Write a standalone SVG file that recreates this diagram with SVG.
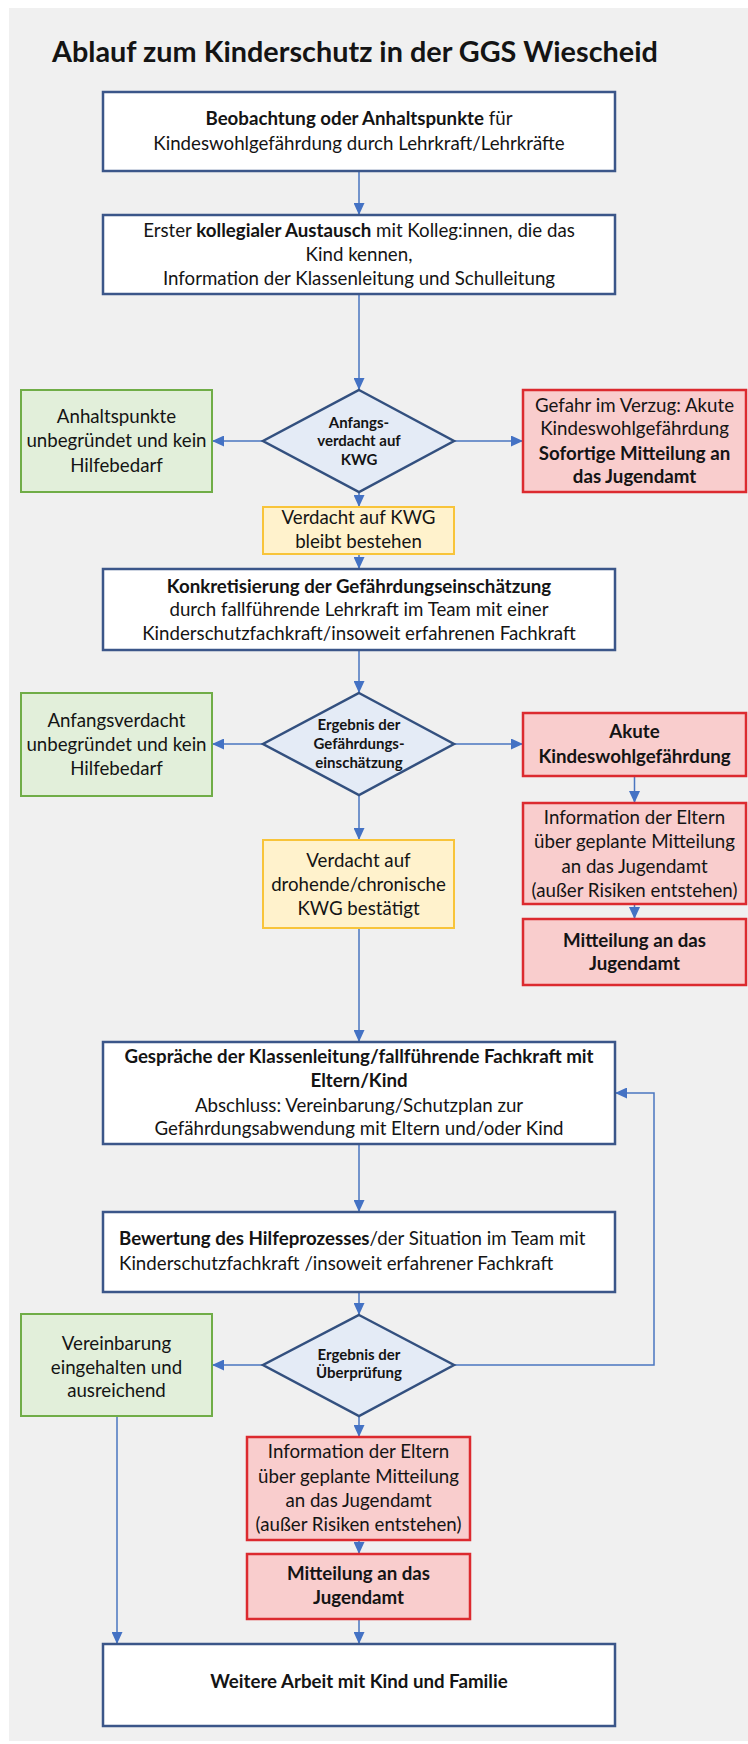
<svg xmlns="http://www.w3.org/2000/svg" width="748" height="1744" viewBox="0 0 748 1744">
<defs>
<marker id="ah" markerUnits="userSpaceOnUse" markerWidth="12" markerHeight="11" refX="12" refY="5.5" orient="auto">
<path d="M0,0 L12,5.5 L0,11 z" fill="#4472c4"/>
</marker>
<style>
text{font-family:Lato,"Open Sans","Liberation Sans",sans-serif;fill:#141414;}
.t{font-size:18.7px;text-anchor:middle;}
.tl{font-size:18.7px;text-anchor:start;}
.d{font-size:15px;font-weight:bold;text-anchor:middle;}
.b{font-weight:bold;}
.box{fill:#ffffff;stroke:#3b5689;stroke-width:2.5;}
.dia{fill:#e4ebf6;stroke:#33507f;stroke-width:2.5;}
.grn{fill:#e2efda;stroke:#70ad47;stroke-width:2;}
.red{fill:#f9cdcd;stroke:#dc2a2f;stroke-width:2.5;}
.yel{fill:#fff2cc;stroke:#f8c43a;stroke-width:2;}
.c{fill:none;stroke:#4a76c0;stroke-width:1.5;marker-end:url(#ah);}
</style>
</defs>
<rect x="9" y="8" width="739" height="1733" fill="#f0f0f0"/>
<text x="52" y="62" style="font-size:28.8px;font-weight:bold;" fill="#000">Ablauf zum Kinderschutz in der GGS Wiescheid</text>

<g id="connectors">
<path class="c" d="M359,171 V215"/>
<path class="c" d="M359,294 V390"/>
<path class="c" d="M263,441 H212"/>
<path class="c" d="M454,441 H523"/>
<path class="c" d="M359,492 V507"/>
<path class="c" d="M359,554 V569"/>
<path class="c" d="M359,650 V693"/>
<path class="c" d="M263,744 H212"/>
<path class="c" d="M454,744 H523"/>
<path class="c" d="M359,795 V840"/>
<path class="c" d="M634.5,776 V803"/>
<path class="c" d="M634.5,904 V919"/>
<path class="c" d="M359,928 V1042"/>
<path class="c" d="M359,1144 V1212"/>
<path class="c" d="M359,1292 V1315"/>
<path class="c" d="M263,1365 H212"/>
<path class="c" d="M454,1365 H654 V1093 H615"/>
<path class="c" d="M359,1416 V1437"/>
<path class="c" d="M359,1540 V1554"/>
<path class="c" d="M359,1619 V1644"/>
<path class="c" d="M117,1416 V1644"/>
</g>

<g id="n1">
<rect class="box" x="103" y="92" width="512" height="79"/>
<text class="t" x="359" y="125"><tspan class="b">Beobachtung oder Anhaltspunkte</tspan> für</text>
<text class="t" x="359" y="150">Kindeswohlgefährdung durch Lehrkraft/Lehrkräfte</text>
</g>

<g id="n2">
<rect class="box" x="103" y="215" width="512" height="79"/>
<text class="t" x="359" y="237">Erster <tspan class="b">kollegialer Austausch</tspan> mit Kolleg:innen, die das</text>
<text class="t" x="359" y="261">Kind kennen,</text>
<text class="t" x="359" y="285">Information der Klassenleitung und Schulleitung</text>
</g>

<g id="d1">
<polygon class="dia" points="359,390 454,441 359,492 263,441"/>
<text class="d" x="359" y="428">Anfangs-</text>
<text class="d" x="359" y="446">verdacht auf</text>
<text class="d" x="359" y="465">KWG</text>
</g>

<g id="g1">
<rect class="grn" x="21" y="390" width="191" height="102"/>
<text class="t" x="116.5" y="423">Anhaltspunkte</text>
<text class="t" x="116.5" y="447">unbegründet und kein</text>
<text class="t" x="116.5" y="472">Hilfebedarf</text>
</g>

<g id="r1">
<rect class="red" x="523" y="390" width="223" height="102"/>
<text class="t" x="634.5" y="412">Gefahr im Verzug: Akute</text>
<text class="t" x="634.5" y="435">Kindeswohlgefährdung</text>
<text class="t b" x="634.5" y="460">Sofortige Mitteilung an</text>
<text class="t b" x="634.5" y="483">das Jugendamt</text>
</g>

<g id="y1">
<rect class="yel" x="263" y="507" width="191" height="47"/>
<text class="t" x="358.5" y="524">Verdacht auf KWG</text>
<text class="t" x="358.5" y="548">bleibt bestehen</text>
</g>

<g id="n3">
<rect class="box" x="103" y="569" width="512" height="81"/>
<text class="t b" x="359" y="593">Konkretisierung der Gefährdungseinschätzung</text>
<text class="t" x="359" y="616">durch fallführende Lehrkraft im Team mit einer</text>
<text class="t" x="359" y="640">Kinderschutzfachkraft/insoweit erfahrenen Fachkraft</text>
</g>

<g id="d2">
<polygon class="dia" points="359,693 454,744 359,795 263,744"/>
<text class="d" x="359" y="730">Ergebnis der</text>
<text class="d" x="359" y="749">Gefährdungs-</text>
<text class="d" x="359" y="768">einschätzung</text>
</g>

<g id="g2">
<rect class="grn" x="21" y="693" width="191" height="103"/>
<text class="t" x="116.5" y="727">Anfangsverdacht</text>
<text class="t" x="116.5" y="751">unbegründet und kein</text>
<text class="t" x="116.5" y="775">Hilfebedarf</text>
</g>

<g id="r2">
<rect class="red" x="523" y="713" width="223" height="63"/>
<text class="t b" x="634.5" y="738">Akute</text>
<text class="t b" x="634.5" y="763">Kindeswohlgefährdung</text>
</g>

<g id="r3">
<rect class="red" x="523" y="803" width="223" height="101"/>
<text class="t" x="634.5" y="824">Information der Eltern</text>
<text class="t" x="634.5" y="848">über geplante Mitteilung</text>
<text class="t" x="634.5" y="873">an das Jugendamt</text>
<text class="t" x="634.5" y="897">(außer Risiken entstehen)</text>
</g>

<g id="r4">
<rect class="red" x="523" y="919" width="223" height="66"/>
<text class="t b" x="634.5" y="947">Mitteilung an das</text>
<text class="t b" x="634.5" y="970">Jugendamt</text>
</g>

<g id="y2">
<rect class="yel" x="263" y="840" width="191" height="88"/>
<text class="t" x="358.5" y="867">Verdacht auf</text>
<text class="t" x="358.5" y="891">drohende/chronische</text>
<text class="t" x="358.5" y="915">KWG bestätigt</text>
</g>

<g id="n4">
<rect class="box" x="103" y="1042" width="512" height="102"/>
<text class="t b" x="359" y="1063">Gespräche der Klassenleitung/fallführende Fachkraft mit</text>
<text class="t b" x="359" y="1087">Eltern/Kind</text>
<text class="t" x="359" y="1112">Abschluss: Vereinbarung/Schutzplan zur</text>
<text class="t" x="359" y="1135">Gefährdungsabwendung mit Eltern und/oder Kind</text>
</g>

<g id="n5">
<rect class="box" x="103" y="1212" width="512" height="80"/>
<text class="tl" x="119" y="1245"><tspan class="b">Bewertung des Hilfeprozesses</tspan>/der Situation im Team mit</text>
<text class="tl" x="119" y="1270">Kinderschutzfachkraft /insoweit erfahrener Fachkraft</text>
</g>

<g id="d3">
<polygon class="dia" points="359,1315 454,1365 359,1416 263,1365"/>
<text class="d" x="359" y="1360">Ergebnis der</text>
<text class="d" x="359" y="1378">Überprüfung</text>
</g>

<g id="g3">
<rect class="grn" x="21" y="1314" width="191" height="102"/>
<text class="t" x="116.5" y="1350">Vereinbarung</text>
<text class="t" x="116.5" y="1374">eingehalten und</text>
<text class="t" x="116.5" y="1397">ausreichend</text>
</g>

<g id="r5">
<rect class="red" x="247" y="1437" width="223" height="103"/>
<text class="t" x="358.5" y="1458">Information der Eltern</text>
<text class="t" x="358.5" y="1483">über geplante Mitteilung</text>
<text class="t" x="358.5" y="1507">an das Jugendamt</text>
<text class="t" x="358.5" y="1531">(außer Risiken entstehen)</text>
</g>

<g id="r6">
<rect class="red" x="247" y="1554" width="223" height="65"/>
<text class="t b" x="358.5" y="1580">Mitteilung an das</text>
<text class="t b" x="358.5" y="1604">Jugendamt</text>
</g>

<g id="n6">
<rect class="box" x="103" y="1644" width="512" height="82"/>
<text class="t b" x="359" y="1688">Weitere Arbeit mit Kind und Familie</text>
</g>
</svg>
